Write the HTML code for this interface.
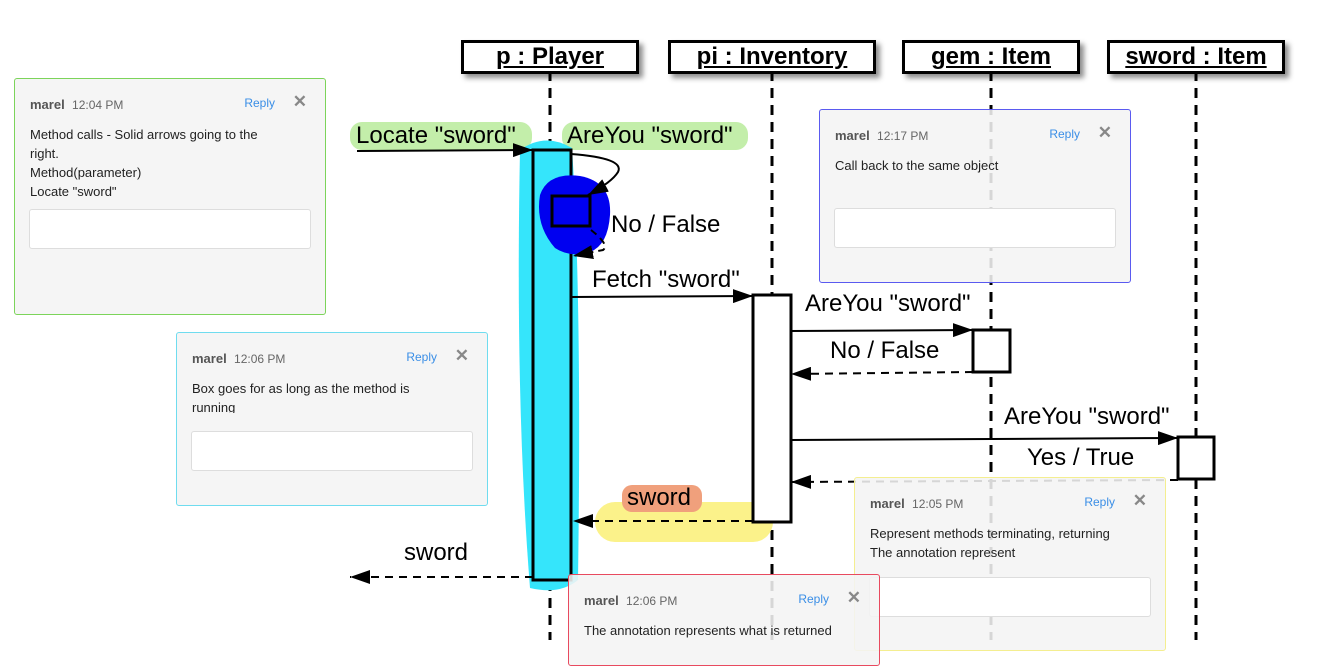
<!DOCTYPE html>
<html><head><meta charset="utf-8"><style>
body{margin:0;width:1324px;height:659px;overflow:hidden;background:#fff;font-family:"Liberation Sans",sans-serif;position:relative}
.h{position:absolute;height:28px;border:3px solid #000;background:#fff;box-shadow:4px 4px 5px rgba(0,0,0,.45);font-weight:bold;font-size:24px;text-align:center;line-height:28px;text-decoration:underline}
.c{position:absolute;width:310px;background:rgba(244,244,244,.88);border:1px solid;border-radius:3px;font-size:13px;color:#222;overflow:hidden}
.c .hd{position:absolute;top:18px;left:15px;font-size:12px;color:#666}
.c .hd b{color:#555;font-size:13px;margin-right:4px}
.c .rp{position:absolute;top:17px;right:50px;color:#3a8ee6;font-size:12px}
.c .x{position:absolute;top:13px;right:18px;color:#888;font-size:17px;font-weight:bold}
.c .t{position:absolute;left:15px;top:46px;line-height:19px;width:252px}
.c .in{position:absolute;left:14px;right:14px;height:38px;background:#fff;border:1px solid #ddd;border-radius:3px}
.lbl{position:absolute;font-size:24px;white-space:nowrap;line-height:28px}
</style></head><body>
<svg width="1324" height="659" style="position:absolute;left:0;top:0">
<defs>
<marker id="m" markerWidth="20" markerHeight="14" refX="20" refY="7" orient="auto" markerUnits="userSpaceOnUse"><path d="M0,0 L20,7 L0,14z"/></marker></defs>
<g stroke="#000" stroke-width="3" stroke-dasharray="10,7">
<line x1="550" y1="71" x2="550" y2="640"/><line x1="772" y1="71" x2="772" y2="640"/>
<line x1="991" y1="71" x2="991" y2="640"/><line x1="1196" y1="71" x2="1196" y2="640"/></g>
<rect x="350" y="122" width="182" height="28" rx="12" fill="#c3eeaa"/>
<rect x="562" y="122" width="186" height="28" rx="12" fill="#c3eeaa"/>
<rect x="595" y="502" width="178" height="40" rx="20" fill="#fbf28a"/>
<rect x="622" y="485" width="80" height="27" rx="10" fill="#f0a07c"/>
<path d="M520,150 Q545,132 572,148 Q582,300 578,580 Q560,595 530,588 Q515,400 520,150z" fill="#35e5fb"/>
<rect x="533" y="150" width="38" height="430" fill="#35e5fb" stroke="#000" stroke-width="3"/>
<path d="M540,195 Q548,172 580,176 Q612,182 610,215 Q608,245 590,252 Q570,258 555,248 Q535,225 540,195z" fill="#0000f0"/>
<rect x="552" y="196" width="38" height="30" fill="#0000f0" stroke="#000" stroke-width="3"/>
<rect x="753" y="295" width="38" height="227" fill="#fff" stroke="#000" stroke-width="3"/>
<rect x="973" y="330" width="37" height="42" fill="#fff" stroke="#000" stroke-width="3"/>
<rect x="1178" y="437" width="36" height="42" fill="#fff" stroke="#000" stroke-width="3"/>
<g stroke="#000" stroke-width="2" fill="none">
<line x1="357" y1="151" x2="533" y2="150" marker-end="url(#m)"/>
<path d="M571,154 Q625,158 618,172 Q612,182 588,195" marker-end="url(#m)"/>
<path d="M591,230 Q610,245 603,250 L573,256" stroke-dasharray="7,5" marker-end="url(#m)"/>
<line x1="571" y1="297" x2="753" y2="296" marker-end="url(#m)"/>
<line x1="791" y1="331" x2="973" y2="330" marker-end="url(#m)"/>
<line x1="973" y1="372" x2="791" y2="374" stroke-dasharray="8,6" marker-end="url(#m)"/>
<line x1="791" y1="440" x2="1178" y2="438" marker-end="url(#m)"/>
<line x1="1178" y1="480" x2="791" y2="482" stroke-dasharray="8,6" marker-end="url(#m)"/>
<line x1="753" y1="521" x2="573" y2="521" stroke-dasharray="8,6" marker-end="url(#m)"/>
<line x1="533" y1="577" x2="350" y2="577" stroke-dasharray="8,6" marker-end="url(#m)"/>
</g></svg>
<div class="h" style="left:461px;top:40px;width:172px">p : Player</div>
<div class="h" style="left:668px;top:40px;width:202px">pi : Inventory</div>
<div class="h" style="left:902px;top:40px;width:172px">gem : Item</div>
<div class="h" style="left:1107px;top:40px;width:172px">sword : Item</div>
<div class="lbl" style="left:356px;top:122px">Locate "sword"</div>
<div class="lbl" style="left:567px;top:122px">AreYou "sword"</div>
<div class="lbl" style="left:611px;top:211px">No / False</div>
<div class="lbl" style="left:592px;top:266px">Fetch "sword"</div>
<div class="lbl" style="left:805px;top:290px">AreYou "sword"</div>
<div class="lbl" style="left:830px;top:337px">No / False</div>
<div class="lbl" style="left:1004px;top:403px">AreYou "sword"</div>
<div class="lbl" style="left:1027px;top:444px">Yes / True</div>
<div class="lbl" style="left:627px;top:484px">sword</div>
<div class="lbl" style="left:404px;top:539px">sword</div>
<div class="c" style="left:14px;top:78px;height:235px;border-color:#7cd45a"><div class="hd"><b>marel</b> 12:04 PM</div><div class="rp">Reply</div><div class="x">✕</div><div class="t">Method calls - Solid arrows going to the right.<br>Method(parameter)<br>Locate "sword"</div><div class="in" style="top:130px"></div></div>
<div class="c" style="left:176px;top:332px;height:172px;border-color:#6fdcef"><div class="hd"><b>marel</b> 12:06 PM</div><div class="rp">Reply</div><div class="x">✕</div><div class="t" style="width:240px;height:34px;overflow:hidden">Box goes for as long as the method is running</div><div class="in" style="top:98px"></div></div>
<div class="c" style="left:819px;top:109px;height:172px;border-color:#5a5af0"><div class="hd"><b>marel</b> 12:17 PM</div><div class="rp">Reply</div><div class="x">✕</div><div class="t">Call back to the same object</div><div class="in" style="top:98px"></div></div>
<div class="c" style="left:854px;top:477px;height:172px;border-color:#f4ee90"><div class="hd"><b>marel</b> 12:05 PM</div><div class="rp">Reply</div><div class="x">✕</div><div class="t" style="width:280px">Represent methods terminating, returning<br>The annotation represent</div><div class="in" style="top:99px"></div></div>
<div class="c" style="left:568px;top:574px;height:90px;border-color:#e84a5f"><div class="hd"><b>marel</b> 12:06 PM</div><div class="rp">Reply</div><div class="x">✕</div><div class="t" style="width:280px">The annotation represents what is returned</div></div>
</body></html>
